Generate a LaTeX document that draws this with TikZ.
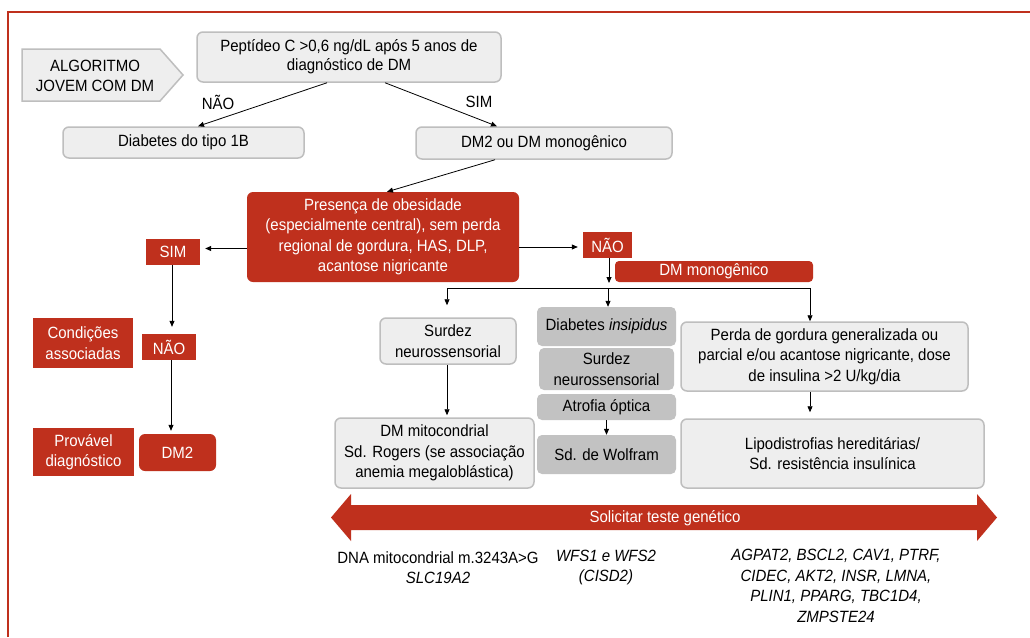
\documentclass[tikz,border=0pt]{standalone}
\usepackage{fontspec}
\setmainfont{Liberation Sans}[FakeStretch=0.92]
\usetikzlibrary{arrows.meta,calc}
\definecolor{rd}{RGB}{191,48,29}
\definecolor{lg}{RGB}{238,238,238}
\definecolor{lgb}{RGB}{190,190,190}
\definecolor{dg}{RGB}{194,194,194}
\begin{document}
\begin{tikzpicture}[x=1pt,y=-1pt,
  font=\fontsize{16.3}{20.5}\selectfont,
  lbox/.style={draw=lgb, fill=lg, line width=1.5pt, rounded corners=6pt, inner sep=0pt, align=center},
  dbox/.style={fill=dg, rounded corners=5pt, inner sep=0pt, align=center},
  rbox/.style={fill=rd, text=white, inner sep=0pt, align=center},
  rrbox/.style={rbox, rounded corners=6pt},
  lbl/.style={inner sep=0pt, align=center},
  arr/.style={-{Triangle[length=6pt,width=5pt]}, line width=0.8pt}]
\useasboundingbox (0,0) rectangle (1030,637);
\fill[white] (0,0) rectangle (1030,637);
% frame
\draw[rd, line width=2.3pt] (8,637) -- (8,12) -- (1030,12);
% start pentagon
\draw[lgb, fill=lg, line width=1.5pt] (22,49) -- (160,49) -- (183,75) -- (160,101) -- (22,101) -- cycle;
\node[lbl] (algo) at (95,76) {ALGORITMO\\JOVEM COM DM};
% top boxes
\node[lbox, minimum width=304pt, minimum height=50pt, font=\fontsize{16.3}{19}\selectfont] (pep) at (349,57) {Peptídeo C >0,6 ng/dL após 5 anos de\\diagnóstico de DM};
\node[lbox, minimum width=241pt, minimum height=31pt] (t1b) at (183.5,142.5) {Diabetes do tipo 1B};
\node[lbox, minimum width=256pt, minimum height=32pt] (dm2m) at (544,143) {DM2 ou DM monogênico};
\node[lbl] (lnao) at (218,102) {NÃO};
\node[lbl] (lsim) at (479,102) {SIM};
% obesity box
\node[rrbox, minimum width=272pt, minimum height=90pt] (pres) at (383,237) {Presença de obesidade\\(especialmente central), sem perda\\regional de gordura, HAS, DLP,\\acantose nigricante};
% left branch
\node[rbox, minimum width=54pt, minimum height=26pt] (sim) at (173,252) {SIM};
\node[rbox, minimum width=54pt, minimum height=26pt] (nao1) at (169,347) {NÃO};
\node[rbox, minimum width=100pt, minimum height=50pt] (cond) at (83,343) {Condições\\associadas};
\node[rrbox, minimum width=77pt, minimum height=37pt] (dm2) at (177.5,452.5) {DM2};
\node[rbox, minimum width=101pt, minimum height=48pt] (prov) at (83.5,452) {Provável\\diagnóstico};
% right branch
\node[rbox, minimum width=49pt, minimum height=26pt] (nao2) at (607.5,245) {NÃO};
\node[rbox, rounded corners=4pt, minimum width=198pt, minimum height=21pt] (mono) at (714,271.5) {DM monogênico};
\node[lbox, minimum width=136pt, minimum height=46pt] (surd) at (448,341) {Surdez\\neurossensorial};
\node[lbox, minimum width=199pt, minimum height=70pt] (mito) at (434.5,453) {DM mitocondrial\\Sd. Rogers (se associação\\anemia megaloblástica)};
\node[dbox, minimum width=139pt, minimum height=39pt] (di) at (606.5,326.5) {Diabetes \textit{insipidus}};
\node[dbox, minimum width=135pt, minimum height=42pt] (surd2) at (606.5,369) {Surdez\\neurossensorial};
\node[dbox, minimum width=139pt, minimum height=26pt] (atro) at (606.5,407) {Atrofia óptica};
\node[dbox, minimum width=139pt, minimum height=39pt] (wolf) at (606.5,454.5) {Sd. de Wolfram};
\node[lbox, minimum width=287pt, minimum height=69pt] (perda) at (824.5,356.5) {Perda de gordura generalizada ou\\parcial e/ou acantose nigricante, dose\\de insulina >2 U/kg/dia};
\node[lbox, minimum width=303pt, minimum height=69pt] (lipo) at (832.5,453.5) {Lipodistrofias hereditárias/\\Sd. resistência insulínica};
% connectors
\draw[arr] ($(pep.south)+(-22,0)$) -- ($(t1b.north)+(14.5,0)$);
\draw[arr] ($(pep.south)+(36,0)$) -- ($(dm2m.north)+(-47,0)$);
\draw[arr] ($(dm2m.south)+(-49,0)$) -- ($(pres.north)+(4,0)$);
\draw[arr] ($(pres.west |- sim.east)+(0,-3.5)$) -- ($(sim.east)+(5,-3.5)$);
\draw[arr] ($(sim.south)+(-1,0)$) -- ($(sim.south |- nao1.north)+(-1,-7)$);
\draw[arr] ($(nao1.south)+(2,0)$) -- ($(nao1.south |- dm2.north)+(2,-3)$);
\draw[arr] ($(pres.east |- nao2.west)+(0,2)$) -- ($(nao2.west)+(-5,2)$);
\coordinate (nend) at (609,283);
\draw[arr] (nao2.south -| nend) -- (nend);
\coordinate (busL) at (447,288);
\coordinate (busM) at (608,288);
\coordinate (busR) at (810,288);
\draw[line width=0.8pt] (busL) -- (busR);
\draw[arr] (busL) -- ($(busL |- surd.north)+(0,-12)$);
\draw[arr] (busM) -- (busM |- di.north);
\draw[arr] (busR) -- (busR |- perda.north);
\draw[arr] ($(surd.south)+(-1,0)$) -- ($(surd.south |- mito.north)+(-1,-2)$);
\draw[arr] (atro.south) -- (atro.south |- wolf.north);
\draw[arr] ($(perda.south)+(-14.5,0)$) -- ($(perda.south |- lipo.north)+(-14.5,-6)$);
% genetic test arrow
\fill[rd] (331,517.5) -- (351,494) -- (351,505) -- (977,505) -- (977,494) -- (997,517.5) -- (977,541) -- (977,530) -- (351,530) -- (351,541) -- cycle;
\node[lbl, text=white] (teste) at (665,518) {Solicitar teste genético};
% genes
\node[lbl] (g1) at (438,567.5) {DNA mitocondrial m.3243A>G\\\textit{SLC19A2}};
\node[lbl, font=\fontsize{16.3}{20.5}\selectfont\itshape] (g2) at (606,567.5) {WFS1 e WFS2\\(CISD2)};
\node[lbl, font=\fontsize{16.3}{20.5}\selectfont\itshape] (g3) at (836,586) {AGPAT2, BSCL2, CAV1, PTRF,\\CIDEC, AKT2, INSR, LMNA,\\PLIN1, PPARG, TBC1D4,\\ZMPSTE24};
\end{tikzpicture}
\end{document}
